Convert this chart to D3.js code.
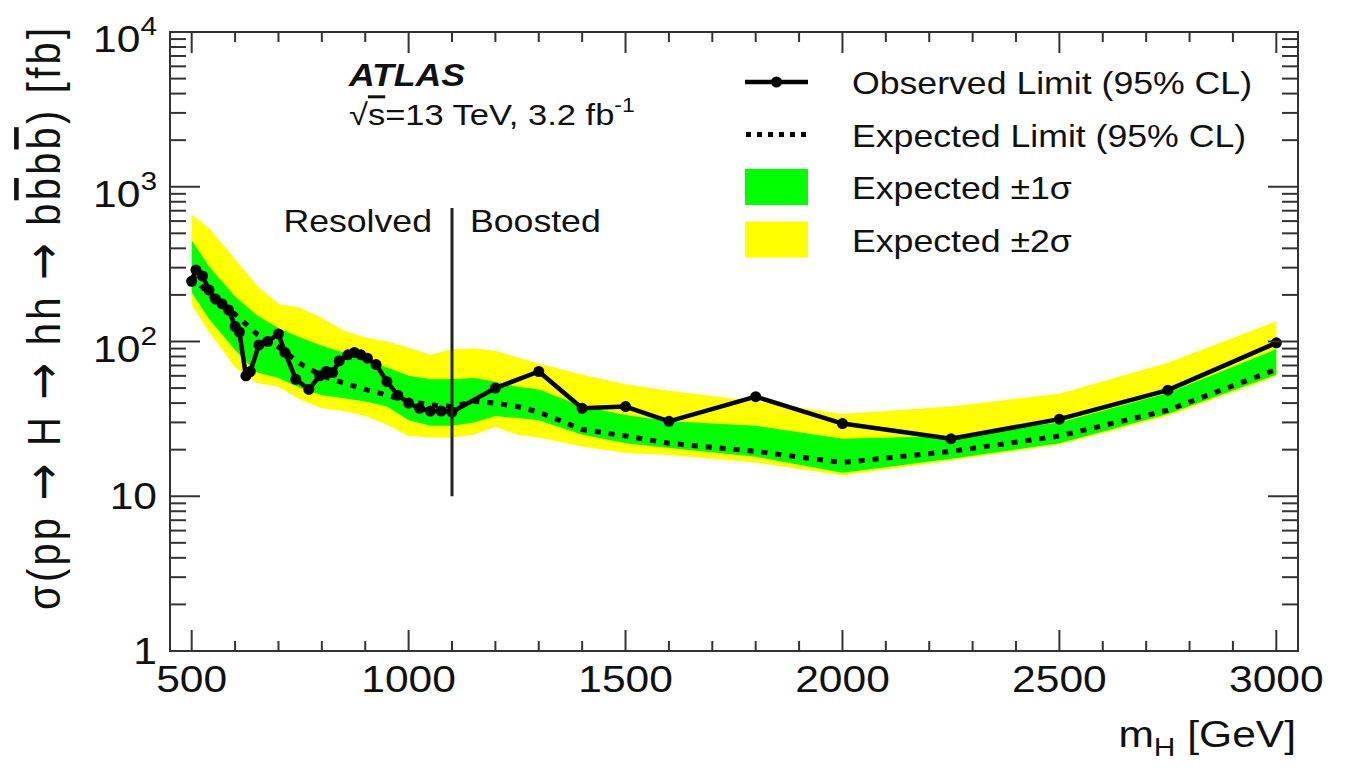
<!DOCTYPE html>
<html>
<head>
<meta charset="utf-8">
<script src="https://cdn.jsdelivr.net/npm/d3@7"></script>
<style>
  body { margin: 0; background: #fff; }
  svg { display: block; font-family: "Liberation Sans", Arial, Helvetica, sans-serif; }
</style>
</head>
<body>
<div id="chart"></div>
<script>
// Observed limit (fb) vs m_H (GeV)
const obsMass = [500, 510, 525, 540, 555, 570, 585, 600, 610, 625, 635, 655, 675, 700, 715, 740, 770, 795, 810, 825, 840, 860, 875, 890, 905, 925, 950, 975, 1000, 1025, 1050, 1075, 1100, 1200, 1300, 1400, 1500, 1600, 1800, 2000, 2250, 2500, 2750, 3000];
const obsLimit = [245, 290, 265, 215, 188, 175, 160, 125, 115, 60, 64, 95, 100, 112, 85, 57, 49, 60, 64, 63, 75, 82, 85, 82, 78, 71, 55, 45, 40, 37, 35.5, 35.5, 35, 50, 64, 37, 38, 30.5, 44, 29.5, 23.5, 31.5, 48.5, 98];

// Expected limit and bands
const bandMass = [500, 540, 600, 650, 700, 750, 800, 850, 900, 950, 1000, 1050, 1100, 1150, 1200, 1250, 1300, 1400, 1500, 1600, 1800, 2000, 2250, 2500, 2750, 3000];
const expLimit = [270, 200, 150, 112, 92, 72, 60, 54, 49, 45, 41, 39, 38, 41, 40, 38, 35, 27, 24.5, 22, 19.5, 16.5, 19.5, 24.5, 36, 66];
const expPlus1 = [450, 305, 195, 148, 122, 106, 94, 85, 77, 68, 60, 57, 57, 58, 55, 51, 49, 38, 33.5, 30.5, 28.5, 23.5, 24.5, 30, 46.5, 89];
const expMinus1 = [207, 140, 88, 63, 58, 50, 45, 43, 41, 38, 31, 28.5, 28.5, 30, 33, 32, 31, 25, 22, 20.5, 18, 14.2, 17.5, 22, 34, 61];
const expPlus2 = [660, 540, 340, 230, 175, 165, 142, 118, 106, 100, 91, 82, 89, 90, 87, 79, 72, 61, 53, 48, 41, 34, 38, 46, 73, 135];
const expMinus2 = [172, 115, 68, 54, 51, 42, 37, 35.5, 33, 29, 24.5, 24, 24, 25, 28, 25, 24, 21, 19, 18.5, 16.5, 13.6, 17, 21.5, 33, 59.5];

// Resolved / boosted boundary
const splitMass = 1100;
const splitSpan = [10, 730];

// Axis ticks
const xMajorTicks = [500, 1000, 1500, 2000, 2500, 3000];
const xMinorTicks = d3.range(500, 3001, 100);
const yDecades = [1, 10, 100, 1000, 10000];
const yDecadeLabels = [["1", ""], ["10", ""], ["10", "2"], ["10", "3"], ["10", "4"]];

const legendEntries = [
  { key: "Observed Limit (95% CL)", type: "obs" },
  { key: "Expected Limit (95% CL)", type: "exp" },
  { key: "Expected \u00b11\u03c3", type: "band", color: "#00ff00" },
  { key: "Expected \u00b12\u03c3", type: "band", color: "#ffff00" },
];

const width = 1353;
const height = 768;
const frame = { left: 170, top: 32, right: 1298, bottom: 651 };
const SX = 1.15; // horizontal text stretch of the original

const x = d3.scaleLinear().domain([450, 3050]).range([frame.left, frame.right]);
const y = d3.scaleLog().domain([1, 1e4]).range([frame.bottom, frame.top]);

const svg = d3
  .select("#chart")
  .append("svg")
  .attr("width", width)
  .attr("height", height)
  .attr("viewBox", [0, 0, width, height]);

const bands = bandMass.map((m, i) => ({
  m,
  exp: expLimit[i],
  p1: expPlus1[i],
  m1: expMinus1[i],
  p2: expPlus2[i],
  m2: expMinus2[i],
}));
const obs = obsMass.map((m, i) => ({ m, v: obsLimit[i] }));

const plot = svg.append("g").attr("class", "plot");

// Bands
plot
  .append("path")
  .datum(bands)
  .attr("fill", "#ffff00")
  .attr(
    "d",
    d3.area().x((d) => x(d.m)).y0((d) => y(d.m2)).y1((d) => y(d.p2))
  );
plot
  .append("path")
  .datum(bands)
  .attr("fill", "#00ff00")
  .attr(
    "d",
    d3.area().x((d) => x(d.m)).y0((d) => y(d.m1)).y1((d) => y(d.p1))
  );

// Expected
plot
  .append("path")
  .datum(bands)
  .attr("fill", "none")
  .attr("stroke", "#000")
  .attr("stroke-width", 5)
  .attr("stroke-dasharray", "6 8")
  .attr("d", d3.line().x((d) => x(d.m)).y((d) => y(d.exp)));

// Observed
plot
  .append("path")
  .datum(obs)
  .attr("fill", "none")
  .attr("stroke", "#000")
  .attr("stroke-width", 4.5)
  .attr("stroke-linejoin", "round")
  .attr("d", d3.line().x((d) => x(d.m)).y((d) => y(d.v)));
plot
  .selectAll(".obs-point")
  .data(obs)
  .join("circle")
  .attr("class", "obs-point")
  .attr("cx", (d) => x(d.m))
  .attr("cy", (d) => y(d.v))
  .attr("r", 5.5)
  .attr("fill", "#000");

// Boundary line
plot
  .append("line")
  .attr("x1", x(splitMass))
  .attr("x2", x(splitMass))
  .attr("y1", y(splitSpan[0]))
  .attr("y2", y(splitSpan[1]))
  .attr("stroke", "#222")
  .attr("stroke-width", 3);

// Frame + ticks
const axes = svg.append("g").attr("class", "axes").attr("stroke", "#333").attr("stroke-width", 2);
axes
  .append("rect")
  .attr("x", frame.left)
  .attr("y", frame.top)
  .attr("width", frame.right - frame.left)
  .attr("height", frame.bottom - frame.top)
  .attr("fill", "none");

const xTicks = xMinorTicks.map((v) => ({ v, len: xMajorTicks.includes(v) ? 21 : 10 }));
axes
  .selectAll(".xtick-b")
  .data(xTicks)
  .join("line")
  .attr("x1", (d) => x(d.v))
  .attr("x2", (d) => x(d.v))
  .attr("y1", frame.bottom)
  .attr("y2", (d) => frame.bottom - d.len);
axes
  .selectAll(".xtick-t")
  .data(xTicks)
  .join("line")
  .attr("class", "xtick-t")
  .attr("x1", (d) => x(d.v))
  .attr("x2", (d) => x(d.v))
  .attr("y1", frame.top)
  .attr("y2", (d) => frame.top + d.len);

const yTicks = [];
yDecades.forEach((dec, i) => {
  yTicks.push({ v: dec, len: 30 });
  if (i < yDecades.length - 1) {
    for (let k = 2; k <= 9; k++) yTicks.push({ v: dec * k, len: 16 });
  }
});
axes
  .selectAll(".ytick-l")
  .data(yTicks)
  .join("line")
  .attr("class", "ytick-l")
  .attr("x1", frame.left)
  .attr("x2", (d) => frame.left + d.len)
  .attr("y1", (d) => y(d.v))
  .attr("y2", (d) => y(d.v));
axes
  .selectAll(".ytick-r")
  .data(yTicks)
  .join("line")
  .attr("class", "ytick-r")
  .attr("x1", frame.right)
  .attr("x2", (d) => frame.right - d.len)
  .attr("y1", (d) => y(d.v))
  .attr("y2", (d) => y(d.v));

// Text helper: stretched horizontally like the original
function addText(parent, px, py, size, anchor) {
  return parent
    .append("text")
    .attr("transform", `translate(${px},${py}) scale(${SX},1)`)
    .attr("font-size", size)
    .attr("text-anchor", anchor || "start")
    .attr("fill", "#111");
}

const labels = svg.append("g").attr("class", "labels");

// X tick labels
xMajorTicks.forEach((v) => {
  addText(labels, x(v), 692, 37, "middle").text(v);
});

// Y tick labels
yDecades.forEach((v, i) => {
  const [base, exp] = yDecadeLabels[i];
  const t = addText(labels, 157, y(v) + (exp ? 20 : 13), 37, "end");
  t.append("tspan").text(base);
  if (exp) {
    t.append("tspan").attr("font-size", 26).attr("dy", -17).text(exp);
  }
});

// Axis titles
const xt = addText(labels, 1296, 747, 37, "end");
xt.append("tspan").text("m");
xt.append("tspan").attr("font-size", 26).attr("dy", 9).text("H");
xt.append("tspan").attr("dy", -9).text(" [GeV]");

const yt = labels
  .append("text")
  .attr("transform", `translate(60,28) rotate(-90) scale(1,${SX})`)
  .attr("font-size", 40)
  .attr("text-anchor", "end")
  .attr("textLength", 582)
  .attr("lengthAdjust", "spacing")
  .attr("fill", "#111");
const arrow = (t) =>
  t.append("tspan").attr("font-family", "DejaVu Sans").attr("font-size", 44).text("\u2192");
yt.append("tspan").text("\u03c3(pp ");
arrow(yt);
yt.append("tspan").text(" H ");
arrow(yt);
yt.append("tspan").text(" hh ");
arrow(yt);
yt.append("tspan").text(" b");
yt.append("tspan").style("text-decoration", "overline").text("b");
yt.append("tspan").text("b");
yt.append("tspan").style("text-decoration", "overline").text("b");
yt.append("tspan").text(") [fb]");

// ATLAS label
addText(labels, 349, 86, 31)
  .attr("font-weight", "bold")
  .attr("font-style", "italic")
  .text("ATLAS");
const lumi = addText(labels, 349, 125, 30);
lumi.append("tspan").text("\u221a");
lumi.append("tspan").style("text-decoration", "overline").text("s");
lumi.append("tspan").text("=13 TeV, 3.2 fb");
lumi.append("tspan").attr("font-size", 20).attr("dy", -13).text("-1");

addText(labels, x(splitMass) - 20, 232, 31, "end").text("Resolved");
addText(labels, x(splitMass) + 18, 232, 31, "start").text("Boosted");

// Legend
const legend = svg.append("g").attr("class", "legend");
const rowY = (i) => 82 + i * 52.5;
legendEntries.forEach((d, i) => {
  const cy = rowY(i);
  if (d.type === "obs") {
    legend.append("line").attr("x1", 745).attr("x2", 808).attr("y1", cy).attr("y2", cy)
      .attr("stroke", "#000").attr("stroke-width", 4.5);
    legend.append("circle").attr("cx", 776.5).attr("cy", cy).attr("r", 5.5).attr("fill", "#000");
  } else if (d.type === "exp") {
    legend.append("line").attr("x1", 746).attr("x2", 808).attr("y1", cy).attr("y2", cy)
      .attr("stroke", "#000").attr("stroke-width", 5).attr("stroke-dasharray", "5 6");
  } else {
    legend.append("rect").attr("x", 745).attr("y", cy - 18).attr("width", 63).attr("height", 36)
      .attr("fill", d.color);
  }
  addText(legend, 852, cy + 12, 31).text(d.key);
});
</script>
</body>
</html>
